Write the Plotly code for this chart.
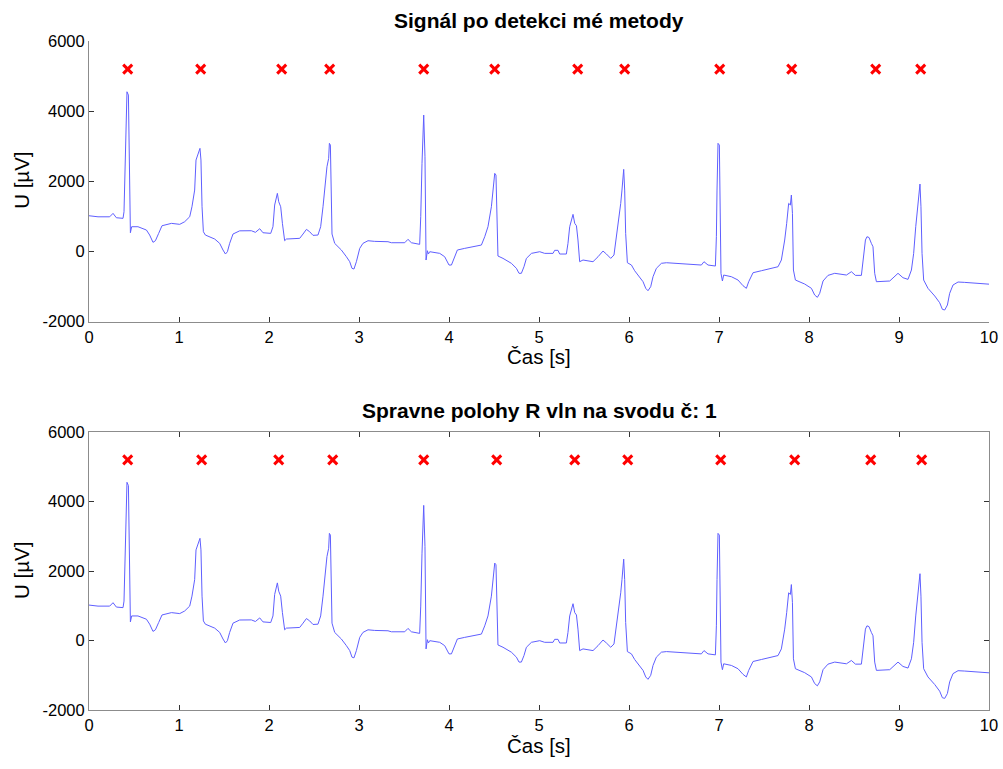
import plotly.graph_objects as go
from plotly.subplots import make_subplots

# ECG signal (time [s], voltage [µV])
t = [0.000, 0.100, 0.230, 0.267, 0.304, 0.378, 0.389, 0.400, 0.411, 0.422, 0.438, 0.449, 0.460, 0.474,
     0.544, 0.638, 0.674, 0.711, 0.738, 0.774, 0.811, 0.916, 1.008, 1.063, 1.119, 1.144, 1.174, 1.189,
     1.216, 1.233, 1.244, 1.256, 1.271, 1.293, 1.397, 1.452, 1.489, 1.516, 1.538, 1.563, 1.600, 1.674,
     1.804, 1.849, 1.897, 1.933, 2.019, 2.044, 2.063, 2.078, 2.093, 2.108, 2.130, 2.149, 2.174, 2.193,
     2.341, 2.378, 2.416, 2.452, 2.489, 2.544, 2.574, 2.600, 2.627, 2.644, 2.663, 2.671, 2.682, 2.689,
     2.700, 2.730, 2.804, 2.860, 2.897, 2.922, 2.944, 2.971, 3.008, 3.044, 3.100, 3.174, 3.322, 3.360,
     3.508, 3.544, 3.582, 3.674, 3.686, 3.700, 3.719, 3.733, 3.745, 3.760, 3.771, 3.786, 3.897, 3.952,
     4.000, 4.027, 4.063, 4.093, 4.174, 4.267, 4.360, 4.397, 4.433, 4.471, 4.493, 4.508, 4.522, 4.533,
     4.544, 4.600, 4.693, 4.749, 4.778, 4.804, 4.833, 4.860, 4.916, 5.008, 5.063, 5.156, 5.174, 5.211,
     5.230, 5.304, 5.322, 5.341, 5.360, 5.378, 5.397, 5.416, 5.433, 5.452, 5.489, 5.600, 5.656, 5.711,
     5.749, 5.797, 5.833, 5.860, 5.886, 5.908, 5.922, 5.941, 5.952, 5.963, 5.982, 6.027, 6.063, 6.119,
     6.156, 6.186, 6.211, 6.241, 6.267, 6.304, 6.360, 6.416, 6.508, 6.663, 6.767, 6.804, 6.833, 6.878,
     6.960, 6.971, 6.978, 6.989, 7.004, 7.011, 7.022, 7.038, 7.052, 7.138, 7.211, 7.267, 7.304, 7.330,
     7.378, 7.471, 7.600, 7.656, 7.693, 7.730, 7.752, 7.774, 7.793, 7.804, 7.816, 7.827, 7.849, 7.952,
     8.027, 8.063, 8.093, 8.119, 8.156, 8.211, 8.286, 8.416, 8.471, 8.516, 8.582, 8.600, 8.627, 8.644,
     8.667, 8.693, 8.711, 8.730, 8.749, 8.897, 8.952, 8.989, 9.044, 9.100, 9.138, 9.163, 9.186, 9.204,
     9.219, 9.233, 9.244, 9.256, 9.274, 9.322, 9.397, 9.452, 9.482, 9.508, 9.538, 9.563, 9.600, 9.656,
     9.730, 9.841, 10.000]
u = [1020, 990, 990, 1088, 963, 946, 1134, 2228, 3462, 4553, 4459, 2512, 536, 707,
     707, 613, 470, 262, 308, 518, 735, 803, 775, 849, 991, 1276, 1752, 2607,
     2815, 2940, 2607, 1276, 564, 470, 356, 233, 43, -71, -5, 233, 499, 590,
     593, 547, 650, 536, 518, 707, 1325, 1467, 1658, 1419, 1276, 803, 308, 356,
     376, 499, 632, 564, 461, 470, 707, 1276, 2037, 2416, 2655, 3083, 3034, 1846,
     499, 233, 43, -148, -290, -479, -499, -290, 90, 233, 308, 290, 280, 251,
     251, 348, 251, 205, 991, 2513, 3889, 2701, -242, 23, -71, -5, -52, -148,
     -385, -385, -148, 43, 90, 137, 185, 422, 707, 1276, 1895, 2228, 2180, 1182,
     -128, -195, -336, -479, -621, -621, -433, -195, -52, -5, -52, -52, 34, 34,
     -71, -71, 233, 707, 897, 1059, 803, 735, 328, -290, -242, -290, -148, 14,
     -71, -195, -100, 422, 803, 1373, 1752, 2342, 1752, 518, -319, -385, -547, -718,
     -860, -1049, -1117, -1003, -718, -479, -336, -319, -336, -356, -365, -385, -290, -385,
     -413, 422, 1752, 3083, 3034, 1943, -621, -840, -670, -718, -812, -974, -1049, -860,
     -604, -547, -479, -433, -242, 328, 803, 1373, 1325, 1610, 1088, -527, -812, -926,
     -1049, -1239, -1305, -1191, -840, -680, -621, -670, -575, -680, -680, -242, 328, 422,
     400, 233, 137, -621, -860, -840, -718, -621, -746, -793, -527, -52, 707, 1230,
     1658, 1923, 1276, -52, -812, -1049, -1267, -1459, -1647, -1666, -1524, -1191, -954, -869,
     -879, -906, -930]

# Detected R-wave positions (top) and reference positions (bottom)
det_t = [0.430, 1.241, 2.141, 2.674, 3.719, 4.508, 5.430, 5.952, 7.008, 7.808, 8.741, 9.241]
ref_t = [0.430, 1.252, 2.108, 2.708, 3.719, 4.530, 5.397, 5.986, 7.019, 7.841, 8.686, 9.252]
marker_level = 5200

titles = ["Signál po detekci mé metody", "Spravne polohy R vln na svodu č: 1"]
x_label = "Čas [s]"
y_label = "U [µV]"
x_ticks = [0, 1, 2, 3, 4, 5, 6, 7, 8, 9, 10]
y_ticks = [-2000, 0, 2000, 4000, 6000]
y_tick_text = ["-2000", "0", "2000", "4000", "6000"]

fig = make_subplots(rows=2, cols=1, vertical_spacing=0.165)

line_style = dict(color="rgb(95,95,255)", width=1)
mk = dict(symbol="x-thin", size=9, color="red", line=dict(color="red", width=3))

fig.add_trace(go.Scatter(x=t, y=u, mode="lines", line=line_style, showlegend=False), row=1, col=1)
fig.add_trace(go.Scatter(x=det_t, y=[marker_level] * len(det_t), mode="markers", marker=mk,
                         showlegend=False), row=1, col=1)
fig.add_trace(go.Scatter(x=t, y=u, mode="lines", line=line_style, showlegend=False), row=2, col=1)
fig.add_trace(go.Scatter(x=ref_t, y=[marker_level] * len(ref_t), mode="markers", marker=mk,
                         showlegend=False), row=2, col=1)

axis_common = dict(showgrid=False, zeroline=False, showline=True, linecolor="#8c8c8c", linewidth=1,
                   ticks="inside", ticklen=5, tickcolor="#333333", tickwidth=1,
                   tickfont=dict(family="Liberation Sans, Arial, sans-serif", size=16.5, color="black"))

fig.update_xaxes(range=[0, 10], tickvals=x_ticks, **axis_common)
fig.update_yaxes(range=[-2000, 6000], tickvals=y_ticks, ticktext=y_tick_text, **axis_common)
fig.update_xaxes(mirror=False, row=1, col=1)
fig.update_yaxes(mirror=False, row=1, col=1)
fig.update_xaxes(mirror="ticks", row=2, col=1)
fig.update_yaxes(mirror="ticks", row=2, col=1)

fig.update_layout(
    width=1003, height=769,
    margin=dict(l=89, r=14, t=41, b=59, autoexpand=False),
    paper_bgcolor="white", plot_bgcolor="white",
)
fig.update_layout(yaxis=dict(domain=[0.5804, 1.0]), yaxis2=dict(domain=[0.0, 0.4155]))

font_lbl = dict(family="Liberation Sans, Arial, sans-serif", size=20.5, color="black")
font_ttl = dict(family="Liberation Sans, Arial, sans-serif", size=21, color="black")
ann = [
    dict(text="<b>" + titles[0] + "</b>", x=0.5, y=1.031, font=font_ttl),
    dict(text="<b>" + titles[1] + "</b>", x=0.5, y=0.447, font=font_ttl),
    dict(text=x_label, x=0.5, y=0.529, font=font_lbl),
    dict(text=x_label, x=0.5, y=-0.053, font=font_lbl),
    dict(text=y_label, x=-0.0744, y=0.791, font=font_lbl, textangle=-90),
    dict(text=y_label, x=-0.0744, y=0.208, font=font_lbl, textangle=-90),
]
for a in ann:
    a.update(xref="paper", yref="paper", showarrow=False, xanchor="center", yanchor="middle")
fig.update_layout(annotations=ann)

# remove the page's default 8 px body margin so the full figure fits the window
fig.write_html("out.html", config={"displayModeBar": False},
               post_script="document.body.style.margin='0';document.body.style.overflow='hidden';")
